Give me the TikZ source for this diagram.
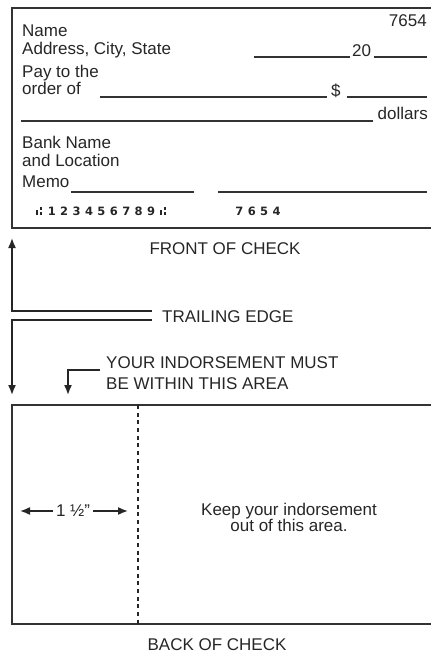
\documentclass[tikz,border=0pt]{standalone}
\usepackage{fontspec}
\setmainfont{Liberation Sans}
\newfontfamily\micrfont{DejaVu Sans}
\usetikzlibrary{arrows.meta,calc}
\newcommand\transitmark{\rule{1.4pt}{4.6pt}\hspace{1.3pt}\rule{2.4pt}{2.4pt}\hspace{-2.4pt}\raisebox{4.4pt}{\rule{2.4pt}{2.4pt}}}
\tikzset{
  txt/.style={font=\fontsize{14.5}{17}\selectfont,text=black!85,inner sep=0pt},
  micr/.style={font=\micrfont\bfseries\fontsize{9.8}{11}\selectfont,text=black!85,inner sep=0pt},
  blank/.style={draw=black!80,line width=1.1pt},
  frame/.style={draw=black!80,line width=1.7pt},
}

\begin{document}
\begin{tikzpicture}[
  x=0.03cm,y=-0.03cm,
  >={Latex[length=3mm,width=2.4mm]},
  lead/.style={draw=black!85,line width=1.3pt},
  cut/.style={draw=black!85,line width=1.7pt,dash pattern=on 0.12cm off 0.11cm}
]
\useasboundingbox (0,0) rectangle (431,652);

\draw[frame] (12,8) rectangle (445,228);

\node[txt,anchor=base east] (num) at (427,27) {7654};
\node[txt,anchor=base west] (name) at (22,37) {Name};
\node[txt,anchor=base west] (addr) at (22,55) {Address, City, State};
\node[txt,anchor=base west] (year) at (352,57) {20};
\draw[blank] (254,57) -- (350,57);
\draw[blank] (374,57) -- (427,57);

\node[txt,anchor=base west] (pay) at (22,78) {Pay to the};
\node[txt,anchor=base west] (order) at (22,95) {order of};
\node[txt,anchor=base west] (dsign) at (331,97) {\$};
\draw[blank] (100,97) -- (327,97);
\draw[blank] (347,97) -- (427,97);

\node[txt,anchor=base east] (dollars) at (428,120) {dollars};
\draw[blank] (21,121) -- (373,121);

\node[txt,anchor=base west] (bank) at (22,149) {Bank Name};
\node[txt,anchor=base west] (loc) at (22,167) {and Location};
\node[txt,anchor=base west] (memo) at (22,188) {Memo};
\draw[blank] (71,192) -- (194,192);
\draw[blank] (218,192) -- (427,192);

\node[micr,anchor=base west] (routing) at (33,215)
  {\foreach \c in {\transitmark,1,2,3,4,5,6,7,8,9,\transitmark}{\makebox[0.372cm]{\c}}};
\node[micr,anchor=base west] (acct) at (233,215)
  {\foreach \c in {7,6,5,4}{\makebox[0.372cm]{\c}}};

\node[txt,anchor=base] (front) at (225,254) {FRONT OF CHECK};

\node[txt,anchor=base west] (trail) at (162,322) {TRAILING EDGE};
\coordinate (te1) at (152,311);
\coordinate (te2) at (152,320);
\coordinate (upend) at (12,238);
\coordinate (downend) at (12,395);
\draw[lead,->] (te1) -| (upend);
\draw[lead,->] (te2) -| (downend);

\node[txt,anchor=base west] (ind1) at (106,368) {YOUR INDORSEMENT MUST};
\node[txt,anchor=base west] (ind2) at (106,389) {BE WITHIN THIS AREA};
\coordinate (indstart) at (100,370);
\coordinate (indend) at (68,395);
\draw[lead,->] (indstart) -| (indend);

\draw[frame] (12,405) rectangle (445,624);
\draw[cut] (138,405) -- (138,624);

\node[txt] (width) at (73,511) {1 ½"};
\coordinate (wl) at (20,511);
\coordinate (wr) at (128,511);
\draw[lead,->] (width.west) ++(-3,0) -- (wl);
\draw[lead,->] (width.east) ++(3,0) -- (wr);

\node[txt,anchor=base] (keep1) at (289,515) {Keep your indorsement};
\node[txt,anchor=base] (keep2) at (289,531) {out of this area.};

\node[txt,anchor=base] (back) at (217,650) {BACK OF CHECK};

\end{tikzpicture}
\end{document}
